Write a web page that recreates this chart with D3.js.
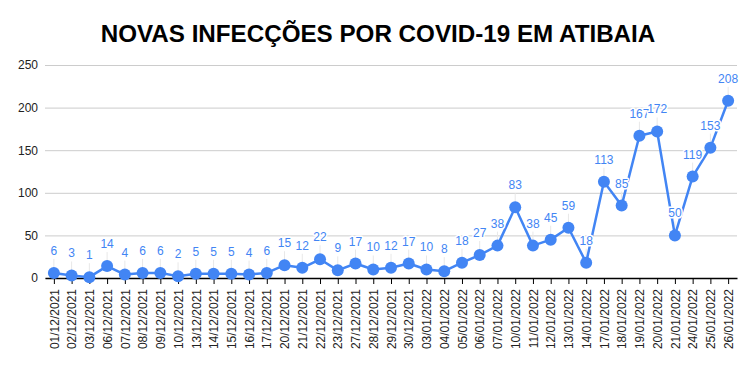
<!DOCTYPE html>
<html>
<head>
<meta charset="utf-8">
<script src="https://cdn.jsdelivr.net/npm/d3@7"></script>
<style>
  body { margin: 0; background: #fff; }
  svg { display: block; font-family: Arial, "Liberation Sans", sans-serif; }
</style>
</head>
<body>
<div id="chart"></div>
<script>
// datas (eixo x) e novos casos
const dates = [
  '01/12/2021', '02/12/2021', '03/12/2021', '06/12/2021', '07/12/2021', '08/12/2021',
  '09/12/2021', '10/12/2021', '13/12/2021', '14/12/2021', '15/12/2021', '16/12/2021',
  '17/12/2021', '20/12/2021', '21/12/2021', '22/12/2021', '23/12/2021', '27/12/2021',
  '28/12/2021', '29/12/2021', '30/12/2021', '03/01/2022', '04/01/2022', '05/01/2022',
  '06/01/2022', '07/01/2022', '10/01/2022', '11/01/2022', '12/01/2022', '13/01/2022',
  '14/01/2022', '17/01/2022', '18/01/2022', '19/01/2022', '20/01/2022', '21/01/2022',
  '24/01/2022', '25/01/2022', '26/01/2022'
];
const cases = [
  6, 3, 1, 14, 4, 6, 6, 2, 5, 5, 5, 4, 6, 15, 12, 22, 9, 17, 10, 12, 17, 10, 8, 18,
  27, 38, 83, 38, 45, 59, 18, 113, 85, 167, 172, 50, 119, 153, 208
];
const yTicks = [0, 50, 100, 150, 200, 250];

const width = 756, height = 371;
const margin = { top: 65, right: 19, bottom: 93, left: 45 };
const blue = '#4285f4';

const data = dates.map((d, i) => ({ date: d, value: cases[i] }));

const svg = d3.select('#chart').append('svg')
  .attr('width', width)
  .attr('height', height);

svg.append('text')
  .attr('x', width / 2)
  .attr('y', 42)
  .attr('text-anchor', 'middle')
  .attr('font-size', 24.2)
  .attr('font-weight', 'bold')
  .attr('fill', '#000')
  .text('NOVAS INFECÇÕES POR COVID-19 EM ATIBAIA');

const x = d3.scalePoint()
  .domain(dates)
  .range([margin.left, width - margin.right])
  .padding(0.5);

const y = d3.scaleLinear()
  .domain([0, 250])
  .range([height - margin.bottom, margin.top]);

// linhas de grade
svg.append('g')
  .attr('transform', `translate(${margin.left},0)`)
  .call(d3.axisLeft(y).tickValues(yTicks).tickSize(-(width - margin.left - margin.right)).tickPadding(7))
  .call(g => g.select('.domain').remove())
  .call(g => g.selectAll('.tick line').attr('stroke', '#cccccc'))
  .call(g => g.selectAll('.tick text')
    .attr('font-size', 12)
    .attr('fill', '#222')
    .attr('font-family', 'Arial, "Liberation Sans", sans-serif'));

// eixo x
svg.append('g')
  .attr('transform', `translate(0,${y(0)})`)
  .call(d3.axisBottom(x).tickSize(6).tickSizeOuter(0))
  .call(g => g.select('.domain').attr('stroke', '#000').attr('stroke-width', 1.5))
  .call(g => g.selectAll('.tick line').attr('stroke', '#000'))
  .call(g => g.selectAll('.tick text')
    .attr('font-size', 12)
    .attr('fill', '#222')
    .attr('font-family', 'Arial, "Liberation Sans", sans-serif')
    .attr('transform', 'rotate(-90)')
    .attr('text-anchor', 'end')
    .attr('x', -11)
    .attr('y', 0)
    .attr('dy', '0.35em'));

// hastes das anotações
svg.append('g')
  .selectAll('line')
  .data(data)
  .enter()
  .append('line')
  .attr('x1', d => x(d.date))
  .attr('x2', d => x(d.date))
  .attr('y1', d => y(d.value))
  .attr('y2', d => y(d.value) - 14)
  .attr('stroke', '#e8e8e8')
  .attr('stroke-width', 1);

const line = d3.line()
  .x(d => x(d.date))
  .y(d => y(d.value));

svg.append('path')
  .datum(data)
  .attr('fill', 'none')
  .attr('stroke', blue)
  .attr('stroke-width', 2.5)
  .attr('stroke-linejoin', 'round')
  .attr('d', line);

svg.append('g')
  .selectAll('circle')
  .data(data)
  .enter()
  .append('circle')
  .attr('cx', d => x(d.date))
  .attr('cy', d => y(d.value))
  .attr('r', 6)
  .attr('fill', blue);

// rótulos com contorno branco por cima da linha
svg.append('g')
  .selectAll('text')
  .data(data)
  .enter()
  .append('text')
  .attr('x', d => x(d.date))
  .attr('y', d => y(d.value) - 18)
  .attr('text-anchor', 'middle')
  .attr('font-size', 12)
  .attr('fill', blue)
  .attr('stroke', '#fff')
  .attr('stroke-width', 3)
  .attr('stroke-linejoin', 'round')
  .attr('paint-order', 'stroke')
  .text(d => d.value);
</script>
</body>
</html>
